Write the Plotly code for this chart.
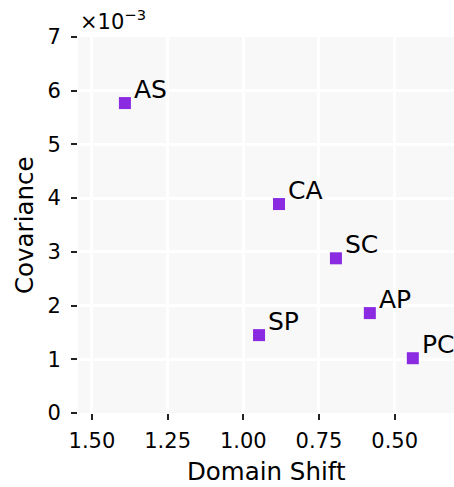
import plotly.graph_objects as go

labels = ["AS", "CA", "SC", "AP", "SP", "PC"]
domain_shift = [1.391, 0.882, 0.694, 0.582, 0.948, 0.440]
covariance = [5.77, 3.89, 2.88, 1.86, 1.45, 1.02]  # ×10^-3

x_ticks = [1.50, 1.25, 1.00, 0.75, 0.50]
x_tick_text = ["1.50", "1.25", "1.00", "0.75", "0.50"]
y_ticks = [0, 1, 2, 3, 4, 5, 6, 7]

FONT = "DejaVu Sans"
COLOR = "#8a2be2"

fig = go.Figure()
fig.add_trace(go.Scatter(
    x=domain_shift, y=covariance, mode="markers",
    marker=dict(symbol="square", size=12, color=COLOR, line=dict(width=0)),
    showlegend=False, hoverinfo="skip",
))

for lab, xv, yv in zip(labels, domain_shift, covariance):
    fig.add_annotation(x=xv, y=yv, text=lab, showarrow=False,
                       xanchor="left", yanchor="middle", xshift=7, yshift=14,
                       font=dict(family=FONT, size=25, color="black"))

fig.add_annotation(xref="paper", yref="paper", x=0, y=1, text="×10<sup>−3</sup>",
                   showarrow=False, xanchor="left", yanchor="bottom", xshift=0, yshift=1,
                   font=dict(family=FONT, size=21, color="black"))

# axis titles
fig.add_annotation(xref="paper", yref="paper", x=0.5, y=0, text="Domain Shift",
                   showarrow=False, xanchor="center", yanchor="middle", yshift=-58,
                   font=dict(family=FONT, size=24.5, color="black"))
fig.add_annotation(xref="paper", yref="paper", x=0, y=0.5, text="Covariance",
                   showarrow=False, xanchor="center", yanchor="middle", xshift=-54,
                   textangle=-90,
                   font=dict(family=FONT, size=24.5, color="black"))

fig.update_layout(
    width=454, height=487,
    margin=dict(l=78, r=0, t=37, b=74),
    paper_bgcolor="white", plot_bgcolor="#f8f8f8",
    font=dict(family=FONT, size=21, color="black"),
)
fig.update_xaxes(
    range=[1.546, 0.304], tickvals=x_ticks, ticktext=x_tick_text,
    showgrid=True, gridcolor="white", gridwidth=3, zeroline=False,
    ticks="outside", ticklen=6, tickwidth=1.5, tickcolor="#222",
    showline=False, automargin=False, ticklabelstandoff=3,
    tickfont=dict(family=FONT, size=21),
)
fig.update_yaxes(
    range=[0, 7], tickvals=y_ticks,
    showgrid=True, gridcolor="white", gridwidth=3, zeroline=False,
    ticks="outside", ticklen=6, tickwidth=1.5, tickcolor="#222",
    showline=False, automargin=False, ticklabelstandoff=6,
    tickfont=dict(family=FONT, size=21),
)

fig.write_html(
    "out.html",
    config={"displayModeBar": False},
    post_script="document.body.style.margin='0';document.body.style.overflow='hidden';",
)
